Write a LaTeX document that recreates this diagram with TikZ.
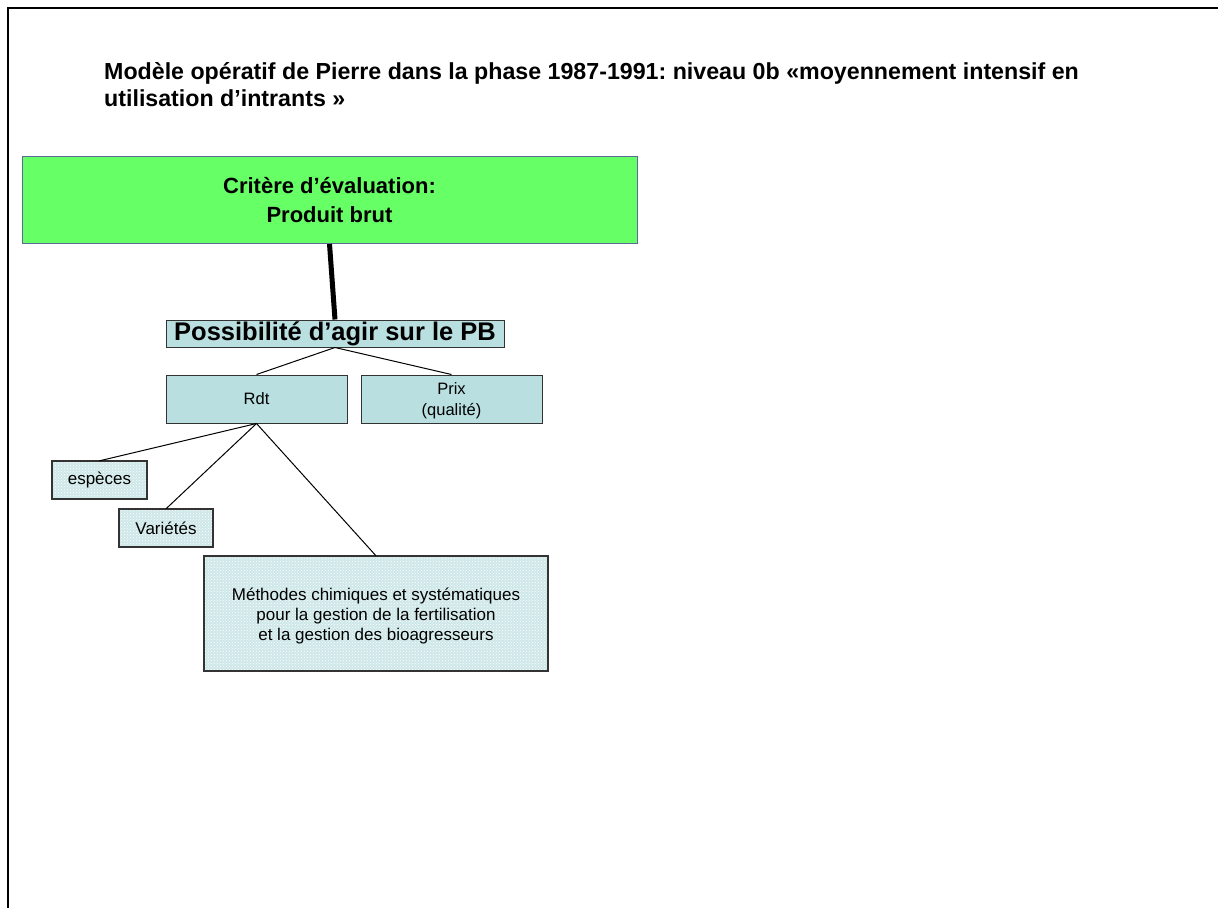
\documentclass[tikz,border=0pt]{standalone}
\usepackage{fontspec}
\setmainfont{Liberation Sans}
\usetikzlibrary{calc}
\usetikzlibrary{patterns}
\frenchspacing

\definecolor{critgreen}{RGB}{102,255,102}
\definecolor{critborder}{RGB}{90,105,150}
\definecolor{paleteal}{RGB}{185,223,224}
\definecolor{dotteal}{RGB}{206,232,233}

\tikzset{
  boxnode/.style={draw=black!80, line width=1pt, fill=paleteal, inner sep=0pt, align=center},
  dotnode/.style={fill=dotteal, postaction={pattern=crosshatch dots, pattern color=white}, postaction={draw=black!80, line width=1.2pt}, inner sep=0pt, align=center, font=\fontsize{17}{20}\selectfont},
  twig/.style={line width=1pt}
}

\begin{document}
\begin{tikzpicture}[x=1pt,y=1pt,yscale=-1,xscale=1]
\useasboundingbox (0,0) rectangle (1218,908);

% Frame
\draw [line width=2] (8,908) -- (8,8) -- (1218,8);

% Text Node
\node [anchor=base west, inner sep=0pt, align=left, font=\bfseries\fontsize{23.2}{27}\selectfont] (title) at (104,106) {Modèle opératif de Pierre dans la phase 1987-1991: niveau 0b «moyennement intensif en\\utilisation d’intrants »};

% Boxes
\node [draw=critborder, line width=1pt, fill=critgreen, minimum width=615, minimum height=87, inner sep=0pt, align=center, font=\bfseries\fontsize{22}{29}\selectfont] (crit) at (329.5,200) {Critère d’évaluation:\\Produit brut};
\node [boxnode, minimum width=338, minimum height=27, font=\bfseries\fontsize{25.5}{28}\selectfont] (poss) at (335,333.5) {Possibilité d’agir sur le PB};
\node [boxnode, minimum width=181, minimum height=48, font=\fontsize{16.5}{21}\selectfont] (rdt) at (256.5,399) {Rdt};
\node [boxnode, minimum width=181, minimum height=48, font=\fontsize{16.5}{21}\selectfont] (prix) at (451.5,399) {\rule{0pt}{15pt}Prix\\(qualité)};
\node [dotnode, minimum width=95, minimum height=38] (esp) at (99.5,480) {espèces};
\node [dotnode, minimum width=94, minimum height=38] (var) at (166,528) {Variétés};
\node [dotnode, minimum width=344, minimum height=115] (meth) at (376,613.5) {\rule{0pt}{17pt}Méthodes chimiques et systématiques\\pour la gestion de la fertilisation\\et la gestion des bioagresseurs};

% Connectors
\draw [line width=5] (crit.south) -- (poss.north);
\draw [twig] (poss.south) -- (rdt.north);
\draw [twig] (poss.south) -- (prix.north);
\draw [twig] (rdt.south) -- (esp.north);
\draw [twig] (rdt.south) -- (var.north);
\draw [twig] (rdt.south) -- (meth.north);

\end{tikzpicture}
\end{document}
